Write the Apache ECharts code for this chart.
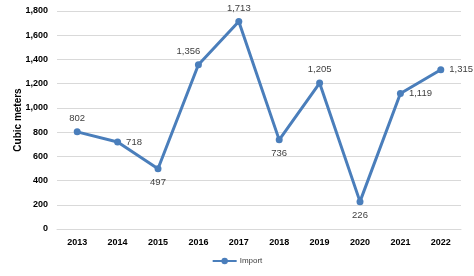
<!DOCTYPE html>
<html><head><meta charset="utf-8">
<script src="https://cdn.jsdelivr.net/npm/echarts@6/dist/echarts.min.js"></script>
<style>html,body{margin:0;padding:0;background:#fff}#c{width:474px;height:276px}</style>
</head><body><div id="c"></div>
<script>
const categories = ['2013','2014','2015','2016','2017','2018','2019','2020','2021','2022'];
const importValues = [802, 718, 497, 1356, 1713, 736, 1205, 226, 1119, 1315];
const labelPositions = ['top','right','bottom','top','top','bottom','top','bottom','right','right'];
const yTicks = {min: 0, max: 1800, interval: 200};

const chart = echarts.init(document.getElementById('c'));
const fmt = v => v.toLocaleString('en-US');
chart.setOption({
  animation: false,
  grid: {left: 57, right: 13, top: 11, bottom: 47, containLabel: false, outerBoundsMode: 'none'},
  legend: {
    bottom: 6, left: 'center',
    itemWidth: 24, itemHeight: 8, itemGap: 4,
    textStyle: {fontSize: 8, color: '#404040', fontFamily: 'Liberation Sans', padding: [0, 0, 0, -2]},
    data: ['Import']
  },
  xAxis: {
    type: 'category', data: categories, boundaryGap: true,
    axisLine: {show: true, lineStyle: {color: '#d9d9d9'}},
    axisTick: {show: false},
    axisLabel: {fontSize: 9, fontWeight: 'bold', color: '#000', margin: 9, fontFamily: 'Liberation Sans'}
  },
  yAxis: {
    type: 'value', min: yTicks.min, max: yTicks.max, interval: yTicks.interval,
    name: 'Cubic meters', nameLocation: 'middle', nameGap: 34, nameRotate: 90,
    nameMoveOverlap: false,
    nameTextStyle: {fontSize: 10, fontWeight: 'bold', color: '#000', fontFamily: 'Liberation Sans'},
    axisLine: {show: false}, axisTick: {show: false},
    splitLine: {lineStyle: {color: '#d9d9d9'}},
    axisLabel: {fontSize: 9, fontWeight: 'bold', color: '#000', margin: 9, formatter: fmt, fontFamily: 'Liberation Sans'}
  },
  series: [{
    name: 'Import', type: 'line',
    data: importValues.map((v, i) => ({
      value: v,
      label: Object.assign({position: labelPositions[i]}, i === 3 ? {offset: [-10, 0]} : {})
    })),
    symbol: 'circle', symbolSize: 7,
    lineStyle: {color: '#4a7ebb', width: 3},
    itemStyle: {color: '#4a7ebb'},
    label: {show: true, fontSize: 9.5, color: '#404040', formatter: p => fmt(p.value), distance: 5, fontFamily: 'Liberation Sans'}
  }]
});
</script></body></html>
